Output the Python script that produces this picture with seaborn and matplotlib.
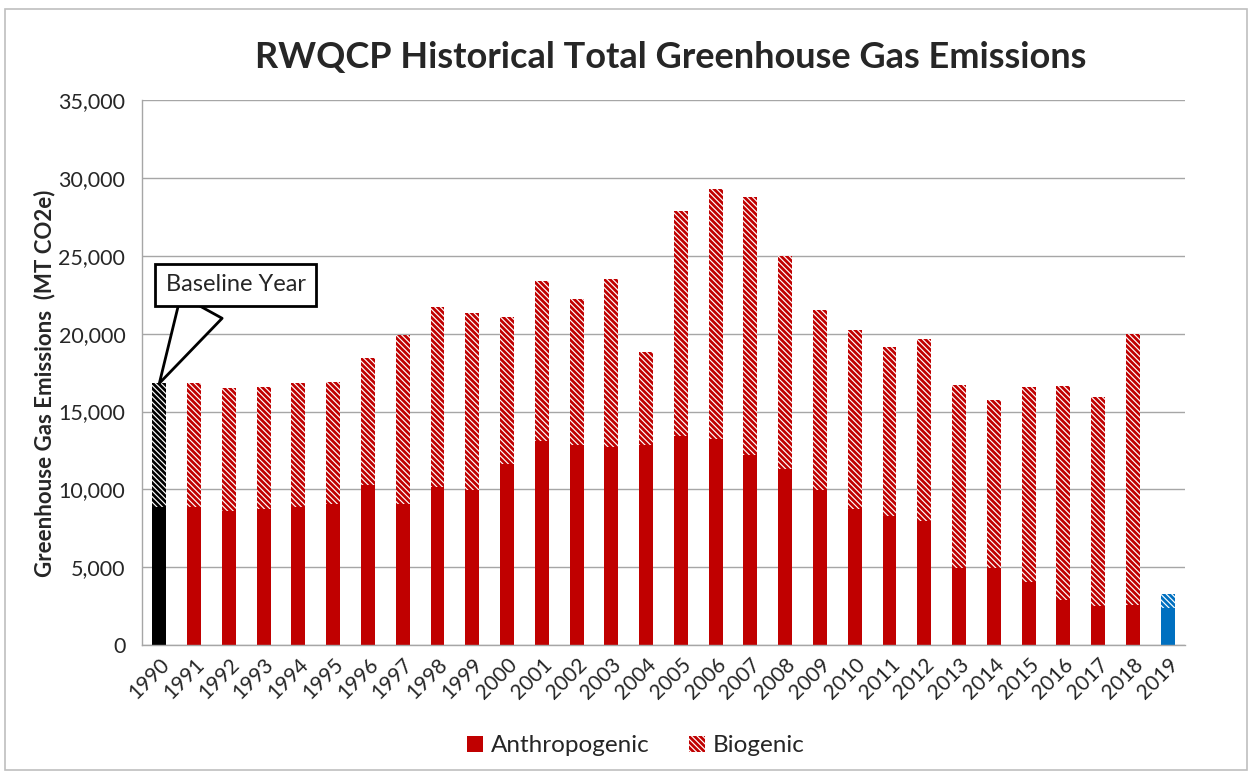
import numpy as np
import pandas as pd
import seaborn as sns
import matplotlib.pyplot as plt
from matplotlib.patches import Patch, Rectangle
from matplotlib.ticker import FuncFormatter

# values (MT CO2e)
years = [str(y) for y in range(1990, 2020)]
anthropogenic = [8860, 8900, 8600, 8770, 8900, 9030, 10310, 9030, 10140, 9990,
                 11600, 13100, 12840, 12710, 12840, 13440, 13220, 12200, 11300, 9990,
                 8730, 8300, 8000, 4960, 4920, 4070, 2870, 2530, 2570, 2400]
total = [16820, 16820, 16520, 16610, 16820, 16910, 18450, 19900, 21740, 21310,
         21100, 23410, 22210, 23500, 18830, 27900, 29320, 28760, 24990, 21530,
         20240, 19130, 19640, 16730, 15750, 16560, 16650, 15920, 19990, 3300]

RED = '#C00000'
BLACK = '#000000'
BLUE = '#0070C0'
bar_colors = [BLACK] + [RED] * 28 + [BLUE]
HATCH = '\\' * 6

df = pd.DataFrame({'Year': years, 'Anthropogenic': anthropogenic, 'Total': total})

sns.set_style("white")
plt.rcParams['font.family'] = ['Lato', 'DejaVu Sans']
plt.rcParams['hatch.linewidth'] = 0.85

fig = plt.figure(figsize=(12.52, 7.72), dpi=100)
ax = fig.add_axes([0.1134, 0.1645, 0.8331, 0.7055])

# biogenic part: draw full total hatched, anthropogenic solid on top
sns.barplot(ax=ax, data=df, x='Year', y='Total', hue='Year', palette=bar_colors,
            legend=False, width=0.4, saturation=1, linewidth=0)
for p in ax.patches:
    p.set_hatch(HATCH)
    p.set_edgecolor('white')
    p.set_linewidth(0)
sns.barplot(ax=ax, data=df, x='Year', y='Anthropogenic', hue='Year', palette=bar_colors,
            legend=False, width=0.4, saturation=1, linewidth=0)

ax.set_xlim(-0.5, len(years) - 0.5)
ax.set_ylim(0, 35000)
ax.set_yticks(np.arange(0, 35001, 5000))
ax.yaxis.set_major_formatter(FuncFormatter(lambda v, _: f'{int(v):,}'))
ax.grid(axis='y', color='#A6A6A6', linewidth=1)
ax.set_axisbelow(True)
for s in ['top', 'right']:
    ax.spines[s].set_visible(False)
for s in ['left', 'bottom']:
    ax.spines[s].set_color('#A6A6A6')
    ax.spines[s].set_linewidth(1)

ax.set_xticks(np.arange(-0.5, len(years), 1), minor=True)
ax.tick_params(axis='x', which='major', length=0, pad=7)
ax.tick_params(axis='x', which='minor', length=6, color='#A6A6A6', direction='out')
ax.tick_params(axis='y', length=6, color='#A6A6A6', direction='out', labelsize=15.5,
               labelcolor='#262626', pad=6)
plt.setp(ax.get_xticklabels(), rotation=45, ha='right', rotation_mode='anchor',
         fontsize=15, color='#262626')

ax.set_xlabel('')
ax.set_ylabel('Greenhouse Gas Emissions  (MT CO2e)', fontsize=16, fontweight='bold',
              labelpad=10)
ax.yaxis.set_label_coords(-0.083, 0.48)
fig.text(0.536, 0.926, 'RWQCP Historical Total Greenhouse Gas Emissions',
         ha='center', va='center', fontsize=26, fontweight='bold')

# callout for baseline year
ax.annotate('Baseline Year', xy=(0, total[0]), xytext=(2.2, 23150),
            textcoords='data', ha='center', va='center', fontsize=17,
            bbox=dict(boxstyle='square,pad=0.45', fc='white', ec='black', lw=2),
            arrowprops=dict(arrowstyle='wedge,tail_width=2.0,shrink_factor=0.5',
                            fc='white', ec='black', lw=2, relpos=(0.3, 0),
                            shrinkA=0, shrinkB=0))

handles = [Patch(facecolor=RED, edgecolor=RED, linewidth=0, label='Anthropogenic'),
           Patch(facecolor=RED, edgecolor='white', hatch=HATCH, linewidth=0,
                 label='Biogenic')]
fig.legend(handles=handles, loc='center', bbox_to_anchor=(0.508, 0.034), ncol=2,
           frameon=False, fontsize=17.5, handlelength=0.65, handleheight=0.65,
           handletextpad=0.35, columnspacing=1.6)

fig.patches.append(Rectangle((0.004, 0.003), 0.992, 0.985, transform=fig.transFigure,
                             fill=False, edgecolor='#BFBFBF', linewidth=1.2))

plt.savefig('out.png', dpi=100)
